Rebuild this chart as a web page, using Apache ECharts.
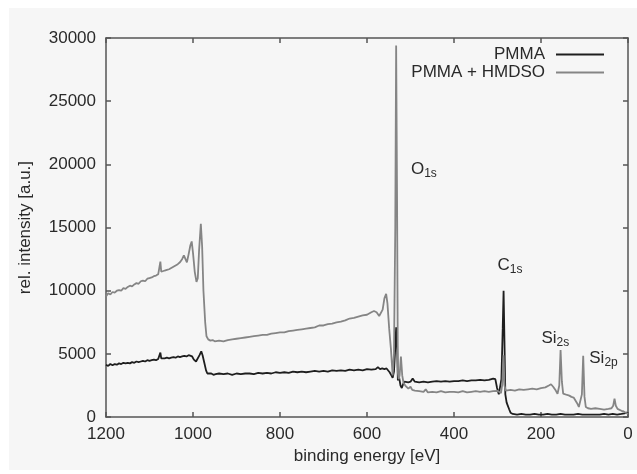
<!DOCTYPE html>
<html>
<head>
<meta charset="utf-8">
<script src="https://cdn.jsdelivr.net/npm/echarts@6/dist/echarts.min.js"></script>
<style>
  html, body { margin: 0; padding: 0; background: #fff; }
  #chart { position: absolute; left: 9px; top: 8px; width: 628px; height: 462px; background: #f6f6f6; }
</style>
</head>
<body>
<div id="chart"></div>
<script>
/* XPS survey: PMMA vs PMMA + HMDSO. */
const FONT = "Liberation Sans, Arial, sans-serif";
const INK = "#2a2a2a";
const AXIS = "#555";

// PMMA (black)
const pmmaE = [
  1200,1195,1190,1185,1180,1175,1170,1165,1160,1155,
  1150,1145,1140,1135,1130,1125,1120,1115,1110,1105,
  1100,1095,1090,1085,1080,1077,1075,1073,1070,1065,
  1060,1055,1050,1045,1040,1035,1030,1025,1020,1015,
  1010,1006,1002,998,993,989,985,981,978,974,
  970,967,963,958,953,948,940,930,920,910,
  900,890,880,870,860,850,840,830,820,810,
  800,790,780,770,760,750,740,730,720,710,
  700,690,680,670,660,650,640,630,620,610,
  600,590,580,575,570,565,560,555,552,548,
  544,541,538,535,533,531,529,527,525,523,
  520,517,514,510,505,500,495,490,480,470,
  460,450,440,430,420,410,400,390,380,370,
  360,350,340,330,320,310,305,301,297,294,
  291,288,286,284,282,279,276,273,270,265,
  255,245,235,225,215,205,195,185,175,165,
  155,145,135,125,115,105,95,85,75,65,
  55,45,35,25,15,8,3,0
];
const pmmaI = [
  4150,4050,4200,4100,4200,4150,4250,4200,4300,4250,
  4300,4250,4350,4300,4400,4350,4400,4450,4400,4500,
  4450,4500,4550,4500,4600,4650,5100,4650,4600,4650,
  4700,4650,4700,4750,4700,4800,4750,4800,4850,4800,
  4900,4950,4800,4550,4400,4500,4900,5200,4900,4300,
  3700,3450,3400,3450,3350,3400,3450,3400,3450,3350,
  3450,3400,3450,3450,3400,3500,3450,3500,3450,3550,
  3500,3550,3500,3600,3550,3600,3550,3600,3650,3600,
  3650,3600,3700,3650,3700,3650,3750,3700,3750,3700,
  3800,3750,3800,3950,3800,3850,3800,3850,3850,3550,
  3300,3100,3600,5500,7100,6000,2900,3300,3350,2500,
  2300,2600,2800,2700,2750,2800,3050,2800,2750,2800,
  2750,2800,2850,2800,2850,2800,2850,2850,2900,2850,
  2900,2900,2950,2900,2950,3050,3000,2300,1800,1700,
  3000,7000,10000,6000,1800,1150,1100,600,350,250,
  200,250,200,200,250,200,200,250,200,200,
  250,200,200,200,250,200,200,200,200,200,
  250,200,250,200,250,300,350,300
];

// PMMA + HMDSO (grey)
const hmdsoE = [
  1200,1195,1190,1185,1180,1175,1170,1165,1160,1155,
  1150,1145,1140,1135,1130,1125,1120,1115,1110,1105,
  1100,1095,1090,1085,1080,1077,1075,1073,1070,1065,
  1060,1055,1050,1045,1040,1035,1030,1025,1021,1018,
  1014,1010,1006,1003,1000,996,992,989,986,982,
  979,976,972,969,965,960,955,950,940,930,
  920,910,900,890,880,870,860,850,840,830,
  820,810,800,790,780,770,760,750,740,730,
  720,710,700,690,680,670,660,650,640,630,
  620,610,600,590,584,578,572,568,564,560,
  556,553,549,545,541,538,535,533,531,529,
  527,525,522,519,516,512,508,505,500,496,
  490,480,470,465,460,450,440,430,420,410,
  400,390,380,370,360,350,340,330,320,310,
  300,296,292,289,286,284,281,277,270,260,
  250,240,230,220,210,200,190,182,177,172,
  166,162,158,155,152,149,145,140,135,130,
  125,121,117,113,109,106,103,100,97,92,
  85,75,65,55,45,38,34,31,28,24,
  20,15,10,5,0
];
const hmdsoI = [
  9550,9800,9700,9900,9850,10000,10050,10000,10200,10150,
  10300,10400,10350,10500,10600,10550,10750,10800,10750,10950,
  11000,11050,11150,11200,11300,11400,12300,11500,11450,11600,
  11650,11700,11800,11900,12000,12100,12250,12500,12800,12650,
  12250,12900,13600,13900,13000,11500,10700,11000,13200,15300,
  13500,10000,7500,6400,6150,6050,6100,6000,6050,6000,
  6100,6150,6200,6250,6300,6350,6400,6450,6500,6500,
  6600,6650,6700,6700,6800,6850,6900,6950,7000,7050,
  7100,7250,7250,7350,7400,7500,7550,7650,7800,7850,
  7950,8050,8100,8300,8400,8300,8000,7850,8500,9400,
  9750,9000,7000,5400,3300,5000,15000,29400,18000,3500,
  3000,3300,4800,3300,2700,2500,2350,2250,2400,2150,
  2100,2050,2000,2200,1950,2000,1950,2050,1950,2000,
  2000,1950,2050,1950,2000,2050,2000,2050,2000,2050,
  2080,1950,1900,2600,4900,2500,2100,2000,2150,2100,
  2200,2150,2200,2250,2200,2300,2350,2500,2600,2400,
  2100,1850,2500,5300,2800,1850,1900,1750,1700,1600,
  1550,1450,1100,800,750,1800,4850,1600,800,700,
  650,700,650,600,650,700,900,1450,900,650,
  600,500,450,350,250
];

// peak annotations (left edge of label, vertical centre)
const annoMain = ["O", "C", "Si", "Si"];
const annoSub = ["1s", "1s", "2s", "2p"];
const annoE = [499, 300, 199, 89];
const annoI = [19500, 11950, 6150, 4600];

const xTicks = { min: 0, max: 1200, interval: 200 };
const yTicks = { min: 0, max: 30000, interval: 5000 };

const zip = (xs, ys) => xs.map((x, i) => [x, ys[i]]);

const boxAxis = (extra) => Object.assign({
  axisLine: { show: true, onZero: false, lineStyle: { color: AXIS, width: 1.5 } },
  axisTick: { show: true, inside: true, length: 5, lineStyle: { color: AXIS, width: 1.5 } },
  splitLine: { show: false },
}, extra);

const labelStyle = { color: INK, fontFamily: FONT, fontSize: 17, formatter: (v) => String(v) };

const chart = echarts.init(document.getElementById("chart"), null, { renderer: "canvas" });
chart.setOption({
  animation: false,
  backgroundColor: "transparent",
  textStyle: { fontFamily: FONT, color: INK },
  grid: { left: 95, right: 9, top: 30, bottom: 43 },
  xAxis: [
    boxAxis(Object.assign({
      type: "value", position: "bottom", inverse: true,
      name: "binding energy [eV]", nameLocation: "middle", nameGap: 28,
      nameTextStyle: { color: INK, fontFamily: FONT, fontSize: 17 },
      axisLabel: Object.assign({ margin: 9 }, labelStyle),
    }, xTicks)),
    boxAxis(Object.assign({ type: "value", position: "top", inverse: true, axisLabel: { show: false } }, xTicks)),
  ],
  yAxis: [
    boxAxis(Object.assign({
      type: "value", position: "left",
      name: "rel. intensity [a.u.]", nameLocation: "middle", nameGap: 72,
      nameTextStyle: { color: INK, fontFamily: FONT, fontSize: 17 },
      axisLabel: Object.assign({ margin: 10 }, labelStyle),
    }, yTicks)),
    boxAxis(Object.assign({ type: "value", position: "right", axisLabel: { show: false } }, yTicks)),
  ],
  legend: {
    orient: "vertical", right: 28, top: 33, align: "right",
    icon: "rect", itemWidth: 48, itemHeight: 2, itemGap: 1,
    textStyle: { color: INK, fontFamily: FONT, fontSize: 17, padding: [0, 6, 0, 0] },
    data: ["PMMA", "PMMA + HMDSO"],
  },
  series: [
    { name: "PMMA", type: "line", data: zip(pmmaE, pmmaI), symbol: "none",
      lineStyle: { color: "#1e1e1e", width: 1.8 }, itemStyle: { color: "#1e1e1e" } },
    { name: "PMMA + HMDSO", type: "line", data: zip(hmdsoE, hmdsoI), symbol: "none",
      lineStyle: { color: "#858585", width: 1.8 }, itemStyle: { color: "#858585" } },
    // peak labels; scatter defaults to 0.8 opacity, so force it back to 1
    { type: "scatter", symbolSize: 0, silent: true, z: 5, itemStyle: { opacity: 1 },
      data: annoE.map((e, i) => ({ value: [e, annoI[i]], main: annoMain[i], sub: annoSub[i] })),
      label: {
        show: true, position: "right", distance: 0, color: INK,
        formatter: (p) => `{a|${p.data.main}}{b|${p.data.sub}}`,
        rich: {
          a: { fontSize: 17, fontFamily: FONT, color: INK, verticalAlign: "top" },
          b: { fontSize: 12, fontFamily: FONT, color: INK, verticalAlign: "top", padding: [7, 0, 0, 0] },
        },
      } },
  ],
});
</script>
</body>
</html>
